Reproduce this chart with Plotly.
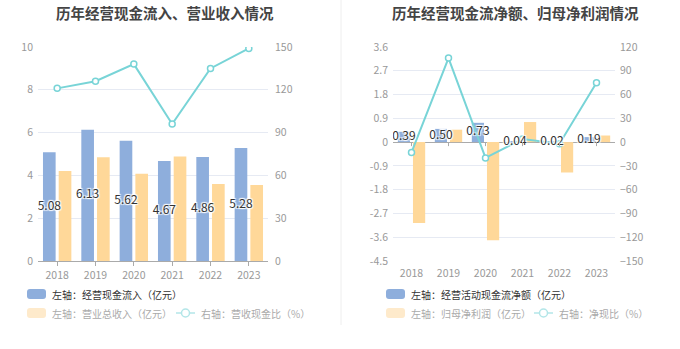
import plotly.graph_objects as go

# ---------------- data ----------------
years = ["2018", "2019", "2020", "2021", "2022", "2023"]
cash_inflow = [5.08, 6.13, 5.62, 4.67, 4.86, 5.28]        # 经营现金流入 (亿元)
revenue = [4.20, 4.85, 4.08, 4.88, 3.60, 3.55]            # 营业总收入 (亿元)
cash_ratio = [121, 126, 138, 96, 135, 149]                # 营收现金比 (%)
net_cash = [0.39, 0.50, 0.73, 0.04, 0.02, 0.19]           # 经营活动现金流净额 (亿元)
net_profit = [-3.06, 0.47, -3.71, 0.76, -1.15, 0.25]      # 归母净利润 (亿元)
net_ratio = [-13, 106, -20, 4, -2, 75]                    # 净现比 (%)

left_ticks = [0, 2, 4, 6, 8, 10]
left_ticks_r = [0, 30, 60, 90, 120, 150]
right_ticks = [-4.5, -3.6, -2.7, -1.8, -0.9, 0, 0.9, 1.8, 2.7, 3.6]
right_ticks_r = [-150, -120, -90, -60, -30, 0, 30, 60, 90, 120]

# ---------------- style ----------------
W, H = 680, 349
FONT = "Noto Sans CJK SC"
BLUE = "#8eaedc"
ORANGE = "#ffd899"
CYAN = "#78d4d7"
GRID = "#e6eaf3"
TICKC = "#999999"
BW, OFF_B, OFF_O = 0.33, -0.37, 0.04
SHADOW = "1px 1px 1px #fff, -1px -1px 1px #fff, 1px -1px 1px #fff, -1px 1px 1px #fff"

L_RANGE = [left_ticks[0], left_ticks[-1]]
L_RANGE_R = [left_ticks_r[0], left_ticks_r[-1]]
R_RANGE = [right_ticks[0], right_ticks[-1]]
R_RANGE_R = [right_ticks_r[0], right_ticks_r[-1]]


def px(x):
    return x / W


def py(y):
    return 1 - y / H


def to_secondary(v, prim, sec):
    # map a primary-axis value onto the overlaying secondary axis (same pixel position)
    return sec[0] + (v - prim[0]) / (prim[1] - prim[0]) * (sec[1] - sec[0])


idx = list(range(len(years)))
fig = go.Figure()

# ---- left chart ----
fig.add_trace(go.Bar(x=idx, y=cash_inflow, width=BW, offset=OFF_B, marker_color=BLUE,
                     marker_line_width=0, xaxis="x", yaxis="y", showlegend=False, hoverinfo="skip"))
fig.add_trace(go.Bar(x=idx, y=revenue, width=BW, offset=OFF_O, marker_color=ORANGE,
                     marker_line_width=0, xaxis="x", yaxis="y", showlegend=False, hoverinfo="skip"))
fig.add_trace(go.Scatter(x=idx, y=cash_ratio, mode="lines+markers", xaxis="x", yaxis="y2",
                         line=dict(color=CYAN, width=2),
                         marker=dict(symbol="circle", size=6, color="white", line=dict(color=CYAN, width=1.5)),
                         showlegend=False, hoverinfo="skip"))
fig.add_trace(go.Scatter(x=[i + OFF_B + BW / 2 for i in idx],
                         y=[to_secondary(v / 2, L_RANGE, L_RANGE_R) for v in cash_inflow],
                         text=[f"{v:.2f}" for v in cash_inflow], mode="text",
                         textfont=dict(family=FONT, size=12, color="#333", shadow=SHADOW),
                         xaxis="x", yaxis="y2", showlegend=False, hoverinfo="skip"))

# ---- right chart ----
fig.add_trace(go.Bar(x=idx, y=net_cash, width=BW, offset=OFF_B, marker_color=BLUE,
                     marker_line_width=0, xaxis="x2", yaxis="y3", showlegend=False, hoverinfo="skip"))
fig.add_trace(go.Bar(x=idx, y=net_profit, width=BW, offset=OFF_O, marker_color=ORANGE,
                     marker_line_width=0, xaxis="x2", yaxis="y3", showlegend=False, hoverinfo="skip"))
fig.add_trace(go.Scatter(x=idx, y=net_ratio, mode="lines+markers", xaxis="x2", yaxis="y4",
                         line=dict(color=CYAN, width=2),
                         marker=dict(symbol="circle", size=6, color="white", line=dict(color=CYAN, width=1.5)),
                         showlegend=False, hoverinfo="skip"))
fig.add_trace(go.Scatter(x=[i + OFF_B + BW / 2 for i in idx],
                         y=[to_secondary(v / 2, R_RANGE, R_RANGE_R) for v in net_cash],
                         text=[f"{v:.2f}" for v in net_cash], mode="text",
                         textfont=dict(family=FONT, size=12, color="#333", shadow=SHADOW),
                         xaxis="x2", yaxis="y4", showlegend=False, hoverinfo="skip"))

tickfont = dict(family=FONT, size=10.5, color=TICKC)
dom_y = [py(261), py(47)]

fig.update_layout(
    template="none",
    width=W, height=H,
    margin=dict(l=0, r=0, t=0, b=0, autoexpand=False),
    paper_bgcolor="white", plot_bgcolor="white",
    barmode="overlay",
    showlegend=False,
    font=dict(family=FONT),
    xaxis=dict(domain=[px(38), px(268)], anchor="y", range=[-0.5, 5.5], tickvals=idx, ticktext=years,
               showgrid=False, zeroline=False, showline=True, linecolor="#aaaaaa", linewidth=1,
               ticks="outside", ticklen=4, tickcolor="#aaaaaa", tickfont=tickfont, automargin=False),
    yaxis=dict(domain=dom_y, anchor="x", range=L_RANGE, tickvals=left_ticks, ticks="",
               showgrid=True, gridcolor=GRID, gridwidth=1, zeroline=False, showline=False, tickfont=tickfont,
               ticklabelstandoff=4, automargin=False),
    yaxis2=dict(overlaying="y", anchor="x", side="right", range=L_RANGE_R, tickvals=left_ticks_r, ticks="",
                showgrid=False, zeroline=False, showline=False, tickfont=tickfont, ticklabelstandoff=6,
                automargin=False),
    xaxis2=dict(domain=[px(393), px(615)], anchor="y3", range=[-0.5, 5.5], tickvals=idx, ticktext=years,
                showgrid=False, zeroline=False, showline=False, ticks="", tickfont=tickfont,
                ticklabelstandoff=4, automargin=False),
    yaxis3=dict(domain=dom_y, anchor="x2", range=R_RANGE, tickvals=right_ticks, ticks="",
                ticktext=[("0" if v == 0 else f"{v:g}") for v in right_ticks],
                showgrid=True, gridcolor=GRID, gridwidth=1, zeroline=True, zerolinecolor="#aaaaaa",
                zerolinewidth=1, showline=False, tickfont=tickfont, ticklabelstandoff=4, automargin=False),
    yaxis4=dict(overlaying="y3", anchor="x2", side="right", range=R_RANGE_R, tickvals=right_ticks_r, ticks="",
                showgrid=False, zeroline=False, showline=False, tickfont=tickfont, ticklabelstandoff=4,
                automargin=False),
)

shapes = []
annotations = []

# tick marks on the zero line of the right chart
for i in idx:
    shapes.append(dict(type="line", xref="x2", yref="y3", xsizemode="scaled", ysizemode="pixel",
                       yanchor=0, x0=i, x1=i, y0=0, y1=-4, line=dict(color="#aaaaaa", width=1)))

# divider
shapes.append(dict(type="line", xref="paper", yref="paper", x0=px(341), x1=px(341), y0=py(0), y1=py(325),
                   line=dict(color="#eeeeee", width=1)))

# titles
annotations.append(dict(text="<b>历年经营现金流入、营业收入情况</b>", xref="paper", yref="paper",
                        x=px(165), y=py(12), xanchor="center", yanchor="middle", showarrow=False,
                        font=dict(family=FONT, size=14.5, color="#444")))
annotations.append(dict(text="<b>历年经营现金流净额、归母净利润情况</b>", xref="paper", yref="paper",
                        x=px(515), y=py(12), xanchor="center", yanchor="middle", showarrow=False,
                        font=dict(family=FONT, size=14.5, color="#444")))


def rect_legend(x, y, color, label, tcolor):
    w, h, r = 19, 10, 3
    x0, x1, y0, y1 = x, x + w, y - h / 2, y + h / 2
    path = (f"M {px(x0 + r)} {py(y0)} L {px(x1 - r)} {py(y0)} Q {px(x1)} {py(y0)} {px(x1)} {py(y0 + r)} "
            f"L {px(x1)} {py(y1 - r)} Q {px(x1)} {py(y1)} {px(x1 - r)} {py(y1)} "
            f"L {px(x0 + r)} {py(y1)} Q {px(x0)} {py(y1)} {px(x0)} {py(y1 - r)} "
            f"L {px(x0)} {py(y0 + r)} Q {px(x0)} {py(y0)} {px(x0 + r)} {py(y0)} Z")
    shapes.append(dict(type="path", xref="paper", yref="paper", path=path, fillcolor=color,
                       line=dict(width=0)))
    annotations.append(dict(text=label, xref="paper", yref="paper", x=px(x + w + 4), y=py(y),
                            xanchor="left", yanchor="middle", showarrow=False,
                            font=dict(family=FONT, size=10, color=tcolor)))


def line_legend(x, y, color, label, tcolor):
    w = 19
    shapes.append(dict(type="line", xref="paper", yref="paper", x0=px(x), x1=px(x + w), y0=py(y), y1=py(y),
                       line=dict(color=color, width=1.5)))
    cx, r = x + w / 2, 4
    shapes.append(dict(type="circle", xref="paper", yref="paper", x0=px(cx - r), x1=px(cx + r),
                       y0=py(y + r), y1=py(y - r), fillcolor="white", line=dict(color=color, width=1.5)))
    annotations.append(dict(text=label, xref="paper", yref="paper", x=px(x + w + 4), y=py(y),
                            xanchor="left", yanchor="middle", showarrow=False,
                            font=dict(family=FONT, size=10, color=tcolor)))


FADE_O = "#feeacb"
FADE_C = "#b3e6e8"
FADE_T = "#aaaaaa"

rect_legend(27, 294, BLUE, "左轴：经营现金流入（亿元）", "#333")
rect_legend(27, 313, FADE_O, "左轴：营业总收入（亿元）", FADE_T)
line_legend(176, 313, FADE_C, "右轴：营收现金比（%）", FADE_T)

rect_legend(386, 294, BLUE, "左轴：经营活动现金流净额（亿元）", "#333")
rect_legend(386, 313, FADE_O, "左轴：归母净利润（亿元）", FADE_T)
line_legend(534, 313, FADE_C, "右轴：净现比（%）", FADE_T)

fig.update_layout(shapes=shapes, annotations=annotations)

fig.write_html("out.html")
